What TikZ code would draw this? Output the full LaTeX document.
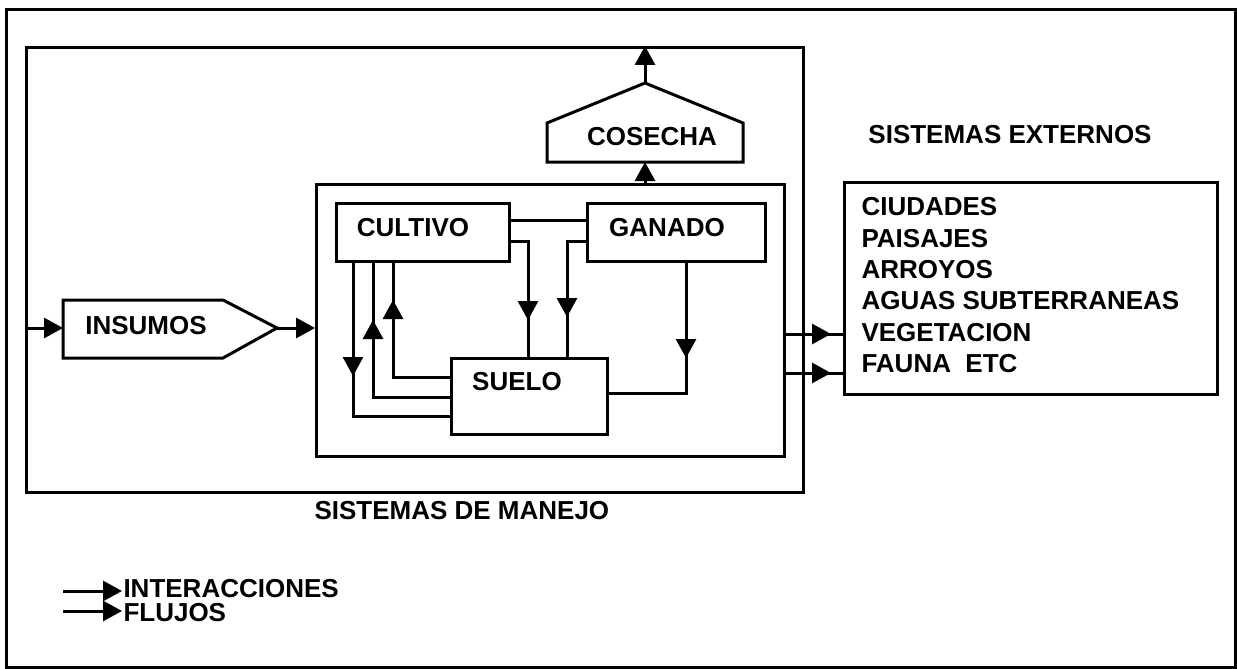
\documentclass[tikz,border=0pt]{standalone}
\usepackage{fontspec}
\setmainfont{Liberation Sans}
\usetikzlibrary{arrows.meta,decorations.markings}
\begin{document}
\begin{tikzpicture}[x=1pt,y=-1pt,line width=3pt,
  bighead/.tip={Triangle[length=19pt,width=20pt]},
  flow/.style={-bighead},
  box/.style={draw,inner sep=0pt,anchor=north west},
  lbl/.style={font=\fontsize{26}{31.4}\selectfont\bfseries,inner sep=0pt},
  midtip/.style={postaction={decorate},decoration={markings,mark=at position #1 with {\arrow{bighead}}}}]
\useasboundingbox (0,0) rectangle (1237,669);

% frames
\node[box,minimum width=1229pt,minimum height=658pt] (frame) at (5,8) {};
\node[box,minimum width=777pt,minimum height=445pt] (mgmt) at (25,46) {};
\node[box,minimum width=468pt,minimum height=272pt] (inner) at (315,183) {};

% inner boxes
\node[box,minimum width=173pt,minimum height=58pt] (cultivo) at (335,202) {};
\node[lbl] (cultivotxt) at (413,228) {CULTIVO};
\node[box,minimum width=178pt,minimum height=58pt] (ganado) at (586,202) {};
\node[lbl] (ganadotxt) at (667,228) {GANADO};
\node[box,minimum width=156pt,minimum height=76pt] (suelo) at (450,357) {};
\node[lbl] (suelotxt) at (517,382) {SUELO};

% external systems
\node[box,minimum width=373pt,minimum height=212pt] (ext) at (843,181) {};
\node[lbl,align=left,anchor=north west] (extlist) at (860,196)
  {CIUDADES\\PAISAJES\\ARROYOS\\AGUAS SUBTERRANEAS\\VEGETACION\\FAUNA\ \ ETC};
\node[lbl] (exttitle) at (1010,135) {SISTEMAS EXTERNOS};
\node[lbl,anchor=west] (mgmttitle) at (313,511) {SISTEMAS DE MANEJO};

% COSECHA
\coordinate (cosbl) at (547,162);
\coordinate (cosl) at (547,123);
\coordinate (costop) at (645,83);
\coordinate (cosr) at (743,123);
\coordinate (cosbr) at (743,162);
\coordinate (cosbot) at (645,162);
\draw (cosbl) -- (cosl) -- (costop) -- (cosr) -- (cosbr) -- cycle;
\node[lbl] (cosecha) at (652,137) {COSECHA};
\draw[flow] (cosbot |- inner.north) -- (cosbot);
\draw[flow] (costop) -- (costop |- mgmt.north);

% INSUMOS
\coordinate (insul) at (63,300);
\coordinate (insur) at (223,300);
\coordinate (inst) at (277,328);
\coordinate (insdr) at (223,358);
\coordinate (insdl) at (63,358);
\coordinate (insl) at (63,328);
\draw (insul) -- (insur) -- (inst) -- (insdr) -- (insdl) -- cycle;
\node[lbl] (insumos) at (146,326) {INSUMOS};
\draw[flow] (insl -| mgmt.west) -- (insl);
\draw[flow] (inst) -- (inst -| inner.west);

% interactions inside
\draw ([yshift=-18pt]cultivo.north east) -- ([yshift=-18pt]ganado.north west);
\draw[midtip=113pt] ([xshift=18pt]cultivo.south west) |- ([yshift=-59pt]suelo.north west);
\draw[midtip=154pt] ([yshift=-40pt]suelo.north west) -| ([xshift=38pt]cultivo.south west);
\draw[midtip=134pt] ([yshift=-20pt]suelo.north west) -| ([xshift=58pt]cultivo.south west);
\draw[midtip=96pt] ([yshift=-39pt]cultivo.north east) -| ([xshift=78pt]suelo.north west);
\draw[midtip=95pt] ([yshift=-39pt]ganado.north west) -| ([xshift=117pt]suelo.north west);
\draw[midtip=95pt] ([xshift=100pt]ganado.south west) |- ([yshift=-36pt]suelo.north east);

% flows to external systems
\coordinate (r1) at ([yshift=-151pt]inner.north east);
\coordinate (r2) at ([yshift=-190pt]inner.north east);
\draw[midtip=45pt] (r1) -- (r1 -| ext.west);
\draw[midtip=45pt] (r2) -- (r2 -| ext.west);

% legend
\node[lbl,anchor=west] (inter) at (122,589) {INTERACCIONES};
\node[lbl,anchor=west] (flujos) at (122,613) {FLUJOS};
\coordinate (l1) at (63,591);
\coordinate (l2) at (63,611);
\draw[flow] (l1) -- (l1 -| inter.west);
\draw[flow] (l2) -- (l2 -| flujos.west);
\end{tikzpicture}
\end{document}
